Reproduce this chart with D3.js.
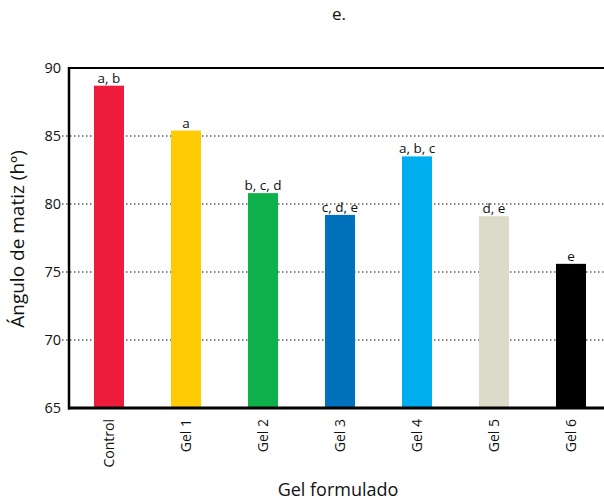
<!DOCTYPE html>
<html><head><meta charset="utf-8">
<script src="https://cdn.jsdelivr.net/npm/d3@7"></script>
<style>body{margin:0;background:#fff}svg{display:block}text{font-family:"Open Sans",sans-serif;fill:#111}</style>
</head><body><svg id="c" width="604" height="500"></svg>
<script>
const categories = ["Control","Gel 1","Gel 2","Gel 3","Gel 4","Gel 5","Gel 6"];
const values = [88.7, 85.4, 80.8, 79.2, 83.5, 79.1, 75.6];
const letters = ["a, b","a","b, c, d","c, d, e","a, b, c","d, e","e"];
const colors = ["#ED1C3B","#FFCB05","#0DB04B","#0072BC","#00AEEF","#DCDBCA","#000000"];
const yTicks = [65,70,75,80,85,90];

const svg = d3.select("#c");
const L = 69, R = 604, T = 68, B = 408;
const x = d3.scaleBand().domain(categories).range([70.5, 609.5]).paddingInner(0.61).paddingOuter(0.305);
const y = d3.scaleLinear().domain([65, 90]).range([B, T]);

// gridlines
svg.append("g").selectAll("line").data(yTicks.filter(t => t > 65 && t < 90)).join("line")
  .attr("x1", L - 7).attr("x2", R).attr("y1", d => y(d)).attr("y2", d => y(d))
  .attr("stroke", "#111").attr("stroke-width", 1.1).attr("stroke-dasharray", "1.5,2.5");

// bars
svg.append("g").selectAll("rect").data(categories).join("rect")
  .attr("x", d => x(d)).attr("width", x.bandwidth())
  .attr("y", (d, i) => y(values[i])).attr("height", (d, i) => B - y(values[i]))
  .attr("fill", (d, i) => colors[i]);

// letters
svg.append("g").selectAll("text").data(categories).join("text")
  .attr("x", d => x(d) + x.bandwidth() / 2).attr("y", (d, i) => y(values[i]) - 3)
  .attr("text-anchor", "middle").attr("font-size", 13.5).text((d, i) => letters[i]);

// y axis
const ya = svg.append("g").attr("transform", `translate(${L},0)`)
  .call(d3.axisLeft(y).tickValues(yTicks).tickSize(0).tickPadding(8));
ya.select(".domain").remove();
ya.selectAll("text").attr("font-size", 14.5).attr("font-family", '"Open Sans",sans-serif').attr("fill", "#111");
svg.append("line").attr("x1", L).attr("x2", L).attr("y1", T - 1).attr("y2", B + 1.5).attr("stroke", "#000").attr("stroke-width", 2.5);
svg.append("line").attr("x1", L).attr("x2", R).attr("y1", T).attr("y2", T).attr("stroke", "#000").attr("stroke-width", 2);
svg.append("line").attr("x1", L - 1).attr("x2", R).attr("y1", B).attr("y2", B).attr("stroke", "#000").attr("stroke-width", 3);

// x axis labels
const xa = svg.append("g").attr("transform", `translate(0,${B})`)
  .call(d3.axisBottom(x).tickSize(0));
xa.select(".domain").remove();
xa.selectAll("text").attr("font-size", 14).attr("font-family", '"Open Sans",sans-serif').attr("fill", "#111")
  .attr("transform", "rotate(-90)").attr("text-anchor", "end").attr("x", -11).attr("y", 0).attr("dy", "0.35em");

// titles
svg.append("text").attr("x", 339).attr("y", 20).attr("text-anchor", "middle").attr("font-size", 17).text("e.");
svg.append("text").attr("x", 338).attr("y", 496).attr("text-anchor", "middle").attr("font-size", 18).text("Gel formulado");
svg.append("text").attr("transform", "translate(24,239) rotate(-90)").attr("text-anchor", "middle").attr("font-size", 19).text("Ángulo de matiz (hº)");
</script></body></html>
